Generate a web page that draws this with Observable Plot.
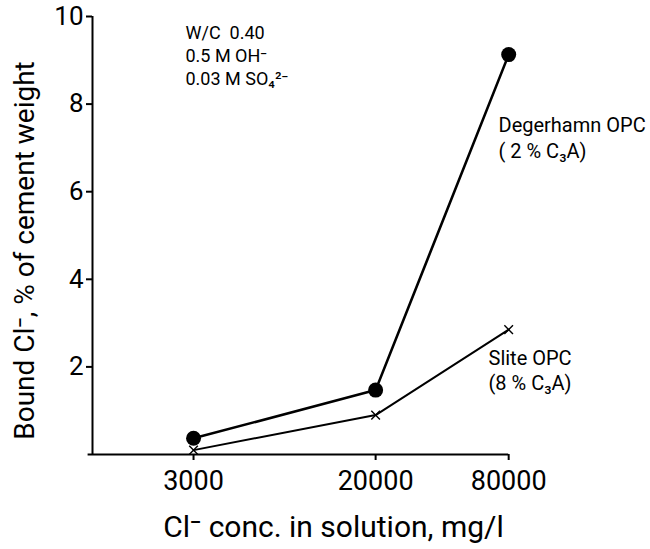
<!DOCTYPE html>
<html>
<head>
<meta charset="utf-8">
<script src="https://cdn.jsdelivr.net/npm/d3@7"></script>
<script src="https://cdn.jsdelivr.net/npm/@observablehq/plot@0.6"></script>
<style>
  html, body { margin: 0; padding: 0; background: #fff; }
</style>
</head>
<body>
<div id="chart"></div>
<script>
const concentrations = [3000, 20000, 80000];
const degerhamn = [0.37, 1.47, 9.13];
const slite = [0.1, 0.9, 2.85];
const xTicks = [3000, 20000, 80000];
const yTicks = [2, 4, 6, 8, 10];
const xLabel = "Cl\u207B conc. in solution, mg/l";
const yLabel = "Bound Cl\u207B, % of cement weight";
const conditions = ["W/C  0.40", "0.5 M OH\u207B", "0.03 M SO\u2084\u00B2\u207B"];
const degLabel = ["Degerhamn OPC", "( 2 % C\u2083A)"];
const sliteLabel = ["Slite OPC", "(8 % C\u2083A)"];

const degData = concentrations.map((c, i) => ({c, v: degerhamn[i]}));
const sliteData = concentrations.map((c, i) => ({c, v: slite[i]}));

function textLines(lines, dx, dy0, step, size) {
  return lines.map((t, i) => Plot.text([t], {
    frameAnchor: "top-left", dx, dy: dy0 + i * step, textAnchor: "start",
    lineAnchor: "middle", fontSize: size, text: d => d
  }));
}

const chart = Plot.plot({
  width: 650,
  height: 549,
  marginLeft: 92,
  marginRight: 136,
  marginTop: 16,
  marginBottom: 95,
  x: {type: "log", domain: [1047, 85000], axis: null},
  y: {domain: [0, 10]},
  style: {fontFamily: "Roboto, 'DejaVu Sans', sans-serif", color: "#000", background: "#fff", overflow: "visible"},
  marks: [
    Plot.ruleY([0], {x1: 1000, x2: 80000, stroke: "#000", strokeWidth: 2}),
    Plot.ruleX([1047], {y1: 0, y2: 10, stroke: "#000", strokeWidth: 2}),
    Plot.ruleX(xTicks, {x: d => d, y1: 0, y2: 0, insetBottom: -6, stroke: "#000", strokeWidth: 2}),
    Plot.text(xTicks, {x: d => d, frameAnchor: "bottom", dy: 16, lineAnchor: "top", fontSize: 27, text: d => String(d)}),
    Plot.axisY(yTicks, {tickSize: 6, tickPadding: 3, fontSize: 26, label: null, strokeWidth: 2}),
    Plot.text([xLabel], {frameAnchor: "bottom", dx: 30, dy: 82, fontSize: 30, text: d => d}),
    Plot.text([yLabel], {frameAnchor: "left", textAnchor: "middle", rotate: -90, dx: -67, dy: 15, fontSize: 28, text: d => d}),
    Plot.line(degData, {x: "c", y: "v", stroke: "#000", strokeWidth: 2.6}),
    Plot.line(sliteData, {x: "c", y: "v", stroke: "#000", strokeWidth: 2}),
    Plot.dot(degData, {x: "c", y: "v", r: 7.5, fill: "#000"}),
    Plot.dot(sliteData, {x: "c", y: "v", r: 4, symbol: "times", stroke: "#000", strokeWidth: 1.4}),
    ...textLines(conditions, 93, 17, 23, 18),
    ...textLines(degLabel, 406, 109, 26, 20),
    ...textLines(sliteLabel, 396, 342, 25, 20)
  ]
});
document.getElementById("chart").appendChild(chart);
</script>
</body>
</html>
